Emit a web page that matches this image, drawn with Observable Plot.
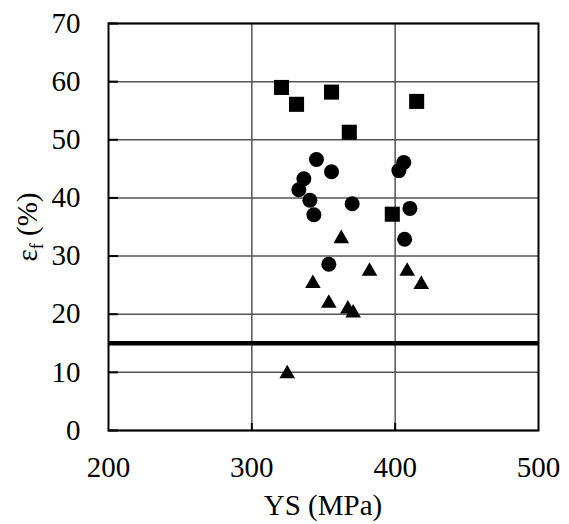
<!DOCTYPE html>
<html><head><meta charset="utf-8">
<script src="https://cdn.jsdelivr.net/npm/d3@7"></script>
<script src="https://cdn.jsdelivr.net/npm/@observablehq/plot@0.6"></script>
<style>body{margin:0;background:#fff}</style>
</head><body><div id="chart"></div>
<script>
const xTicks = [200, 300, 400, 500];
const yTicks = [0, 10, 20, 30, 40, 50, 60, 70];
const threshold = 15;

const squareYS = [320.7, 331.2, 355.6, 368.0, 415.0, 398.0];
const squareEf = [59.0, 56.1, 58.2, 51.3, 56.6, 37.2];

const circleYS = [345.1, 355.6, 336.3, 332.8, 340.5, 343.3, 370.0, 406.0, 402.6, 410.3, 406.6, 353.7];
const circleEf = [46.6, 44.5, 43.3, 41.4, 39.6, 37.1, 39.0, 46.1, 44.7, 38.2, 32.9, 28.6];

const triangleYS = [362.4, 382.1, 408.4, 418.2, 342.6, 353.7, 367.0, 370.7, 324.7];
const triangleEf = [33.0, 27.4, 27.4, 25.1, 25.3, 21.9, 20.9, 20.2, 9.75];

const toRows = (xs, ys) => xs.map((x, i) => ({x, y: ys[i]}));
const squares = toRows(squareYS, squareEf);
const circles = toRows(circleYS, circleEf);
const triangles = toRows(triangleYS, triangleEf);

const font = "Liberation Serif, Times New Roman, serif";
const fs = 29;

const chart = Plot.plot({
  width: 569, height: 524,
  marginLeft: 108, marginRight: 31, marginTop: 23, marginBottom: 94,
  style: {fontFamily: font, fontSize: fs + "px", color: "black", background: "white", overflow: "visible"},
  x: {domain: [200, 500], ticks: xTicks, label: null},
  y: {domain: [0, 70], ticks: yTicks, label: null},
  marks: [
    Plot.gridY(yTicks, {stroke: "#555", strokeOpacity: 1, strokeWidth: 1.5}),
    Plot.gridX([300, 400], {stroke: "#555", strokeOpacity: 1, strokeWidth: 1.5}),
    Plot.ruleY([threshold], {stroke: "black", strokeWidth: 4.5}),
    Plot.axisY(yTicks, {tickSize: -10, tickFormat: () => "", label: null, stroke: "black", strokeWidth: 2}),
    Plot.axisX([300, 400], {tickSize: -7, tickFormat: () => "", label: null, stroke: "black", strokeWidth: 2}),
    Plot.frame({stroke: "black", strokeWidth: 2}),
    Plot.axisY(yTicks, {tickSize: 0, tickPadding: 28, label: null, fontSize: fs, fill: "black"}),
    Plot.axisX(xTicks, {tickSize: 0, tickPadding: 26, label: null, fontSize: fs, fill: "black"}),
    Plot.dot(squares, {x: "x", y: "y", symbol: "square", r: 8.5, fill: "black", stroke: "none"}),
    Plot.dot(circles, {x: "x", y: "y", symbol: "circle", r: 7.5, fill: "black", stroke: "none"}),
    Plot.dot(triangles, {x: "x", y: "y", symbol: "triangle", r: 5.8, fill: "black", stroke: "none"})
  ]
});
document.getElementById("chart").appendChild(chart);

const svg = d3.select(chart);
svg.append("text")
  .attr("x", 323).attr("y", 515)
  .attr("text-anchor", "middle")
  .attr("font-family", font).attr("font-size", fs).attr("fill", "black")
  .text("YS (MPa)");

const yl = svg.append("text")
  .attr("transform", "translate(37,227) rotate(-90)")
  .attr("text-anchor", "middle")
  .attr("font-family", font).attr("font-size", fs).attr("fill", "black");
yl.append("tspan").text("ε");
yl.append("tspan").attr("font-size", 18).attr("dy", 6).text("f");
yl.append("tspan").attr("dy", -6).text(" (%)");
</script>
</body></html>
